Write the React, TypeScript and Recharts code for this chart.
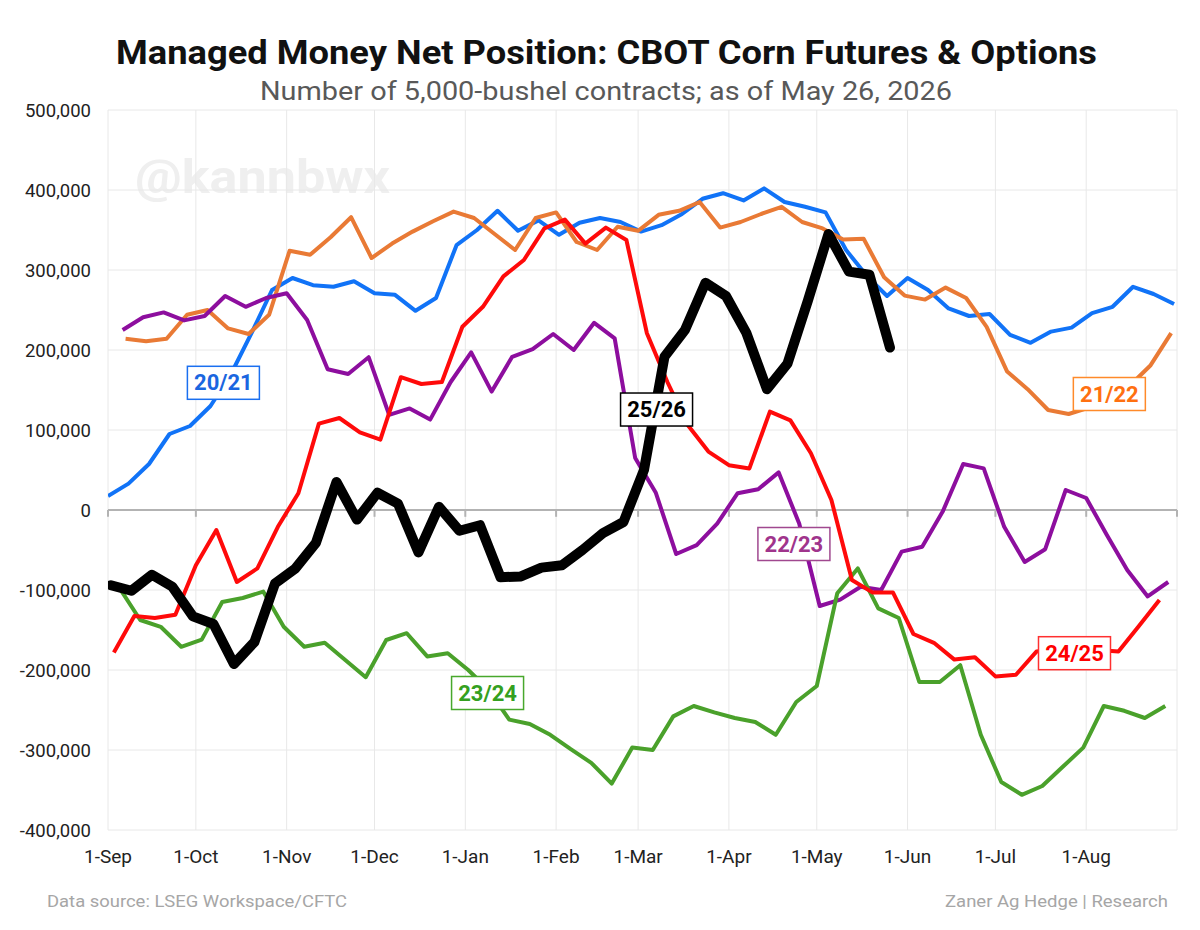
import React from 'react';
import { LineChart, Line, XAxis, YAxis, CartesianGrid, ReferenceLine, ReferenceDot } from 'recharts';

// x values are days since 1-Sep; weekly CFTC reports (Tuesdays)
const monthTicks = [0, 30, 61, 91, 122, 153, 181, 212, 242, 273, 303, 334, 365];
const monthLabels = ['1-Sep', '1-Oct', '1-Nov', '1-Dec', '1-Jan', '1-Feb', '1-Mar', '1-Apr', '1-May', '1-Jun', '1-Jul', '1-Aug', ''];
const yTicks = [-400000, -300000, -200000, -100000, 0, 100000, 200000, 300000, 400000, 500000];

// first report day (days since 1-Sep) for each season
const start2021 = 0;
const start2122 = 6;
const start2223 = 5;
const start2324 = 4;
const start2425 = 2;
const start2526 = 1;

// net position, thousands of contracts, weekly
const v2021 = [17.5, 33, 57.5, 95, 105, 130, 170, 221, 275, 290, 281, 279, 286, 271, 269, 249, 265, 331, 350, 374, 349, 362, 344, 359, 365, 360, 348, 356, 370, 389, 396, 387, 402, 385, 379, 372, 325, 293, 267.5, 290, 275, 252, 242.5, 245, 219, 209, 223, 228, 246, 254, 279, 270, 257.5];
const v2122 = [214, 211, 214, 244, 250, 227, 220, 244, 324, 319, 341, 366, 315, 333, 348, 361, 373, 365, 345, 325, 365, 372, 335, 325, 354, 349, 369, 374, 385, 353, 360, 370, 379, 360, 352, 338, 339, 291, 268, 263, 278, 265, 229, 173, 151, 125, 120, 128, 140, 156, 181, 221];
const v2223 = [225, 241, 247, 237, 242.5, 267.5, 254, 265, 271, 237.5, 176, 170, 191, 119, 127, 113, 160, 197, 148, 191.5, 201, 220, 200, 234, 214.5, 65, 22, -55, -44, -17, 21, 26, 47, -17, -120, -112, -96, -100, -52, -46, -2, 57.5, 52, -21, -65, -49, 25, 15, -31, -75, -108, -90];
const v2324 = [-98, -137.5, -146, -171, -162, -115, -110, -102, -146, -171, -166, -187.5, -209, -162.5, -154, -183, -179, -200, -225, -262, -267.5, -281, -299, -316, -342, -297, -300, -258, -245, -253, -260, -265, -281, -240, -220, -104, -73, -123, -135, -215, -215, -194, -281, -340, -356, -345, -321, -297, -245, -251, -260, -245];
const v2425 = [-178, -132.5, -135, -131, -69, -25, -90, -73, -21, 21, 108, 115, 97, 88, 166, 157.5, 160, 229, 254, 292, 312.5, 352, 363, 333, 353, 337.5, 221, 160, 106, 73, 56, 52, 123, 112, 71, 12.5, -87.5, -103, -103, -155, -166, -187, -184, -208, -206, -177, -174, -172, -175, -177, -145, -112.5];
const v2526 = [-94, -101, -81, -96, -133, -142.5, -192.5, -165, -92, -73, -41, 35, -12, 21.6, 8, -53, 4, -26, -19, -84, -83, -72, -69, -50, -29, -15, 50, 191.5, 225, 284, 267.5, 221, 151, 183, 262, 345, 298, 294, 203];

const seasonNames = ['20/21', '21/22', '22/23', '23/24', '24/25', '25/26'];

const toWeekly = (start: number, vals: number[]) =>
  vals.map((v, i) => ({ day: start + 7 * i, v: v * 1000 }));

const d2021 = toWeekly(start2021, v2021);
const d2122 = toWeekly(start2122, v2122);
const d2223 = toWeekly(start2223, v2223);
const d2324 = toWeekly(start2324, v2324);
const d2425 = toWeekly(start2425, v2425);
const d2526 = toWeekly(start2526, v2526);

const FONT = 'Roboto, "Noto Sans", sans-serif';

// series label annotations (anchor in data coords)
const annotations = [
  { name: seasonNames[0], day: 39.4, val: 159000, color: '#1a66e0', border: '#1a6ff0' },
  { name: seasonNames[1], day: 341.9, val: 145000, color: '#ff7010', border: '#ff8a2a' },
  { name: seasonNames[2], day: 234.2, val: -42500, color: '#a0348c', border: '#a0488f' },
  { name: seasonNames[3], day: 129.6, val: -228750, color: '#34a020', border: '#48a82c' },
  { name: seasonNames[4], day: 330, val: -179000, color: '#ff0000', border: '#ff3030' },
  { name: seasonNames[5], day: 187.3, val: 125600, color: '#000000', border: '#000000' },
];

const fmtY = (v: number) => (v === 0 ? '0' : v.toLocaleString('en-US'));
const fmtX = (v: number) => {
  const i = monthTicks.indexOf(v);
  return i >= 0 ? monthLabels[i] : '';
};

const makeBox = (a: typeof annotations[number]) => (props: any) => {
  const { cx, cy } = props;
  return (
    <g>
      <rect x={cx - 36} y={cy - 16.5} width={72} height={33} fill="#ffffff" stroke={a.border} strokeWidth={1.5} />
      <text x={cx} y={cy + 7.5} textAnchor="middle" fill={a.color} fontWeight={700} fontSize={22} fontFamily={FONT}>
        {a.name}
      </text>
    </g>
  );
};

export default function App() {
  return (
    <div style={{ position: 'absolute', left: 0, top: 0, width: 1200, height: 930, background: '#ffffff', fontFamily: FONT }}>
      <svg width={1200} height={930} style={{ position: 'absolute', left: 0, top: 0 }}>
        <text x={135} y={193} fontSize={46} fontWeight={700} fill="#efefef" fontFamily={FONT} textLength={255} lengthAdjust="spacingAndGlyphs">@kannbwx</text>
        <text x={116} y={64} fontSize={34} fontWeight={700} fill="#111111" fontFamily={FONT} textLength={981} lengthAdjust="spacingAndGlyphs">
          Managed Money Net Position: CBOT Corn Futures &amp; Options
        </text>
        <text x={260} y={100} fontSize={26} fill="#595959" fontFamily={FONT} textLength={692} lengthAdjust="spacingAndGlyphs">
          Number of 5,000-bushel contracts; as of May 26, 2026
        </text>
        <text x={47} y={907} fontSize={17} fill="#a6a6a6" fontFamily={FONT} textLength={300} lengthAdjust="spacingAndGlyphs">
          Data source: LSEG Workspace/CFTC
        </text>
        <text x={945} y={907} fontSize={17} fill="#a6a6a6" fontFamily={FONT} textLength={223} lengthAdjust="spacingAndGlyphs">
          Zaner Ag Hedge | Research
        </text>
      </svg>
      <div style={{ position: 'absolute', left: 0, top: 0 }}>
        <LineChart width={1200} height={930} margin={{ top: 110, right: 23, bottom: 70, left: 0 }}>
          <CartesianGrid stroke="#e8e8e8" strokeWidth={1} />
          <XAxis
            type="number"
            dataKey="day"
            domain={[0, 365]}
            ticks={monthTicks}
            tickFormatter={fmtX}
            interval={0}
            axisLine={false}
            tickLine={false}
            height={30}
            tickMargin={14}
            tick={{ fontSize: 19, fill: '#222222', fontFamily: FONT }}
            allowDataOverflow
          />
          <YAxis
            type="number"
            domain={[-400000, 500000]}
            ticks={yTicks}
            tickFormatter={fmtY}
            width={108}
            axisLine={false}
            tickLine={false}
            tickMargin={11}
            tick={{ fontSize: 18.5, fill: '#222222', fontFamily: FONT }}
            allowDataOverflow
          />
          <ReferenceLine y={0} stroke="#b3b3b3" strokeWidth={2} />
          {monthTicks.map((t) => (
            <ReferenceLine key={t} segment={[{ x: t, y: 0 }, { x: t, y: -8500 }]} stroke="#b3b3b3" strokeWidth={2} />
          ))}
          <Line data={d2021} dataKey="v" name={seasonNames[0]} stroke="#1173f7" strokeWidth={4} dot={false} isAnimationActive={false} strokeLinejoin="round" />
          <Line data={d2122} dataKey="v" name={seasonNames[1]} stroke="#e97a35" strokeWidth={4} dot={false} isAnimationActive={false} strokeLinejoin="round" />
          <Line data={d2223} dataKey="v" name={seasonNames[2]} stroke="#8d0e9e" strokeWidth={4} dot={false} isAnimationActive={false} strokeLinejoin="round" />
          <Line data={d2324} dataKey="v" name={seasonNames[3]} stroke="#4aa12b" strokeWidth={4} dot={false} isAnimationActive={false} strokeLinejoin="round" />
          <Line data={d2425} dataKey="v" name={seasonNames[4]} stroke="#ff0a0a" strokeWidth={4} dot={false} isAnimationActive={false} strokeLinejoin="round" />
          <Line data={d2526} dataKey="v" name={seasonNames[5]} stroke="#000000" strokeWidth={10} dot={false} isAnimationActive={false} strokeLinejoin="round" strokeLinecap="round" />
          {annotations.map((a) => (
            <ReferenceDot key={a.name} x={a.day} y={a.val} r={0} ifOverflow="visible" shape={makeBox(a)} />
          ))}
        </LineChart>
      </div>
    </div>
  );
}
